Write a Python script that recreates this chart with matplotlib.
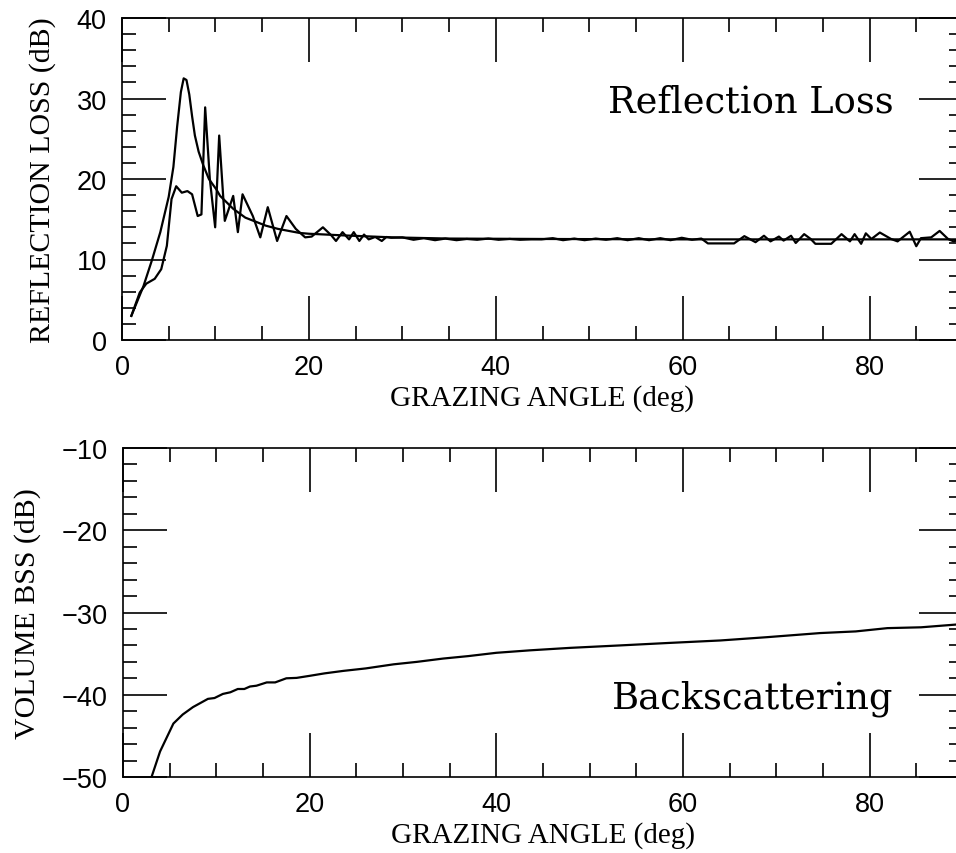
import numpy as np
import matplotlib
matplotlib.use("Agg")
import matplotlib.pyplot as plt

# ---- reflection loss vs grazing angle ----
# smooth model curve
rl_model_angle = [1.0, 2.3, 3.2, 4.1, 5.0, 5.5, 5.9, 6.3, 6.6, 6.9, 7.2, 7.5, 7.8, 8.2,
                  8.7, 9.3, 10.1, 10.5, 11.9, 13.2, 15.4, 16.7, 19.0, 20.0, 23.6, 28.9,
                  35.0, 45.0, 60.0, 75.0, 90.0]
rl_model_db = [3.0, 6.7, 9.9, 13.4, 17.8, 21.5, 26.5, 30.8, 32.5, 32.3, 30.5, 27.8, 25.4, 23.4,
               21.7, 20.0, 18.7, 17.9, 16.3, 15.2, 14.2, 13.8, 13.3, 13.2, 13.0, 12.75,
               12.6, 12.55, 12.5, 12.5, 12.5]

# measured / computed curve with interference ripple
rl_data_angle = [1.0, 1.9, 2.6, 3.5, 4.2, 4.8, 5.3, 5.8, 6.4, 7.0, 7.5, 8.1, 8.5, 8.9,
                 9.4, 9.97, 10.4, 11.0, 11.9, 12.4, 12.9, 14.0, 14.8, 15.6, 16.6, 17.6,
                 18.6, 19.6, 20.3, 21.5, 22.4, 22.9, 23.6, 24.3, 24.8, 25.4, 25.9, 26.4,
                 27.1, 27.8, 28.3, 28.8, 30.0, 31.2, 32.3, 33.5, 34.6, 35.8, 36.9, 38.0,
                 39.2, 40.3, 41.5, 42.6, 43.8, 44.9, 46.1, 47.2, 48.4, 49.5, 50.7, 51.8,
                 53.0, 54.1, 55.3, 56.4, 57.6, 58.7, 59.9, 61.0, 62.0, 62.7, 65.5, 66.6,
                 67.8, 68.7, 69.4, 70.3, 70.8, 71.6, 72.1, 73.0, 73.7, 74.2, 75.9, 77.0,
                 77.9, 78.4, 79.1, 79.6, 80.2, 81.1, 82.3, 83.0, 84.3, 85.0, 85.5, 86.6,
                 87.5, 88.4, 89.0, 90.0]
rl_data_db = [3.0, 5.9, 7.0, 7.6, 8.8, 11.7, 17.5, 19.1, 18.3, 18.5, 18.1, 15.4, 15.6, 28.9,
              20.0, 14.0, 25.4, 14.8, 17.9, 13.4, 18.1, 15.4, 12.75, 16.5, 12.3, 15.4,
              13.8, 12.75, 12.85, 14.0, 13.0, 12.3, 13.4, 12.5, 13.4, 12.3, 13.1, 12.5,
              12.8, 12.3, 12.8, 12.7, 12.75, 12.45, 12.65, 12.4, 12.6, 12.4, 12.55, 12.45,
              12.6, 12.45, 12.55, 12.45, 12.5, 12.5, 12.65, 12.4, 12.6, 12.4, 12.6, 12.45,
              12.65, 12.4, 12.65, 12.4, 12.65, 12.4, 12.7, 12.45, 12.6, 12.0, 12.0, 12.9,
              12.15, 12.95, 12.25, 12.85, 12.35, 12.95, 12.05, 13.15, 12.55, 11.95, 11.95, 13.15,
              12.25, 13.15, 11.95, 13.25, 12.55, 13.35, 12.55, 12.25, 13.45, 11.65, 12.65, 12.75,
              13.55, 12.55, 12.25, 12.6]

# ---- volume backscattering strength ----
bss_angle = [3.0, 3.97, 5.4, 6.4, 7.5, 8.3, 9.1, 9.8, 10.7, 11.5, 12.3, 13.0, 13.6, 14.3,
             15.4, 16.3, 17.5, 18.6, 20.0, 21.6, 23.6, 26.0, 29.0, 31.5, 34.3, 37.0,
             40.0, 43.6, 47.9, 53.3, 58.5, 64.0, 69.0, 74.7, 78.5, 81.9, 85.5, 90.0]
bss_db = [-50.2, -46.9, -43.5, -42.4, -41.5, -41.0, -40.5, -40.4, -39.9, -39.7, -39.3, -39.3,
          -39.0, -38.9, -38.5, -38.5, -38.0, -37.95, -37.7, -37.4, -37.1, -36.8, -36.3, -36.0,
          -35.6, -35.3, -34.9, -34.6, -34.3, -34.0, -33.7, -33.4, -33.0, -32.5, -32.3,
          -31.9, -31.8, -31.4]

x_major = [0, 20, 40, 60, 80]
rl_major = [0, 10, 20, 30, 40]
bss_major = [-50, -40, -30, -20, -10]

SANS = "Liberation Sans"
SERIF = "Liberation Serif"
TITLE_SERIF = "DejaVu Serif"


def style_axes(ax, yticks, ylim, ylabel):
    ax.set_xlim(0, 90)
    ax.set_ylim(*ylim)
    ax.set_xticks(x_major)
    ax.set_xticks(np.arange(0, 91, 5), minor=True)
    ax.set_yticks(yticks)
    ax.set_yticks(np.arange(ylim[0], ylim[1] + 1, 2), minor=True)
    ax.set_yticklabels([str(v).replace("-", "\u2212") for v in yticks],
                       fontfamily=SANS, fontsize=19.5)
    ax.set_xticklabels([str(v) for v in x_major], fontfamily=SANS, fontsize=19.5)
    ax.tick_params(which="both", direction="in", top=True, right=True, width=1.2)
    ax.tick_params(which="major", length=31.5)
    ax.tick_params(which="minor", length=10)
    ax.tick_params(axis="x", pad=10)
    ax.tick_params(axis="y", pad=11)
    for s in ax.spines.values():
        s.set_linewidth(1.2)
    ax.set_xlabel("GRAZING ANGLE (deg)", fontfamily=SERIF, fontsize=21, labelpad=3)
    ax.set_ylabel(ylabel, fontfamily=SERIF, fontsize=21.5, labelpad=15)


fig = plt.figure(figsize=(9.56, 8.54), dpi=100)
ax1 = fig.add_axes([122 / 956, 1 - 341 / 854, 841 / 956, 322 / 854])
ax2 = fig.add_axes([123 / 956, 1 - 778 / 854, 840 / 956, 329 / 854])

ax1.plot(rl_model_angle, rl_model_db, color="black", lw=1.6)
ax1.plot(rl_data_angle, rl_data_db, color="black", lw=1.6)
style_axes(ax1, rl_major, (0, 40), "REFLECTION LOSS (dB)")
ax1.annotate("Reflection Loss", xy=(82.6, 30), xytext=(0, -9.5), textcoords="offset points",
             ha="right", va="baseline", fontfamily=TITLE_SERIF, fontsize=26.5)

ax2.plot(bss_angle, bss_db, color="black", lw=1.6)
style_axes(ax2, bss_major, (-50, -10), "VOLUME BSS (dB)")
ax2.annotate("Backscattering", xy=(82.6, -40), xytext=(0, -9.5), textcoords="offset points",
             ha="right", va="baseline", fontfamily=TITLE_SERIF, fontsize=26.5)

fig.savefig("out.png", dpi=100)
